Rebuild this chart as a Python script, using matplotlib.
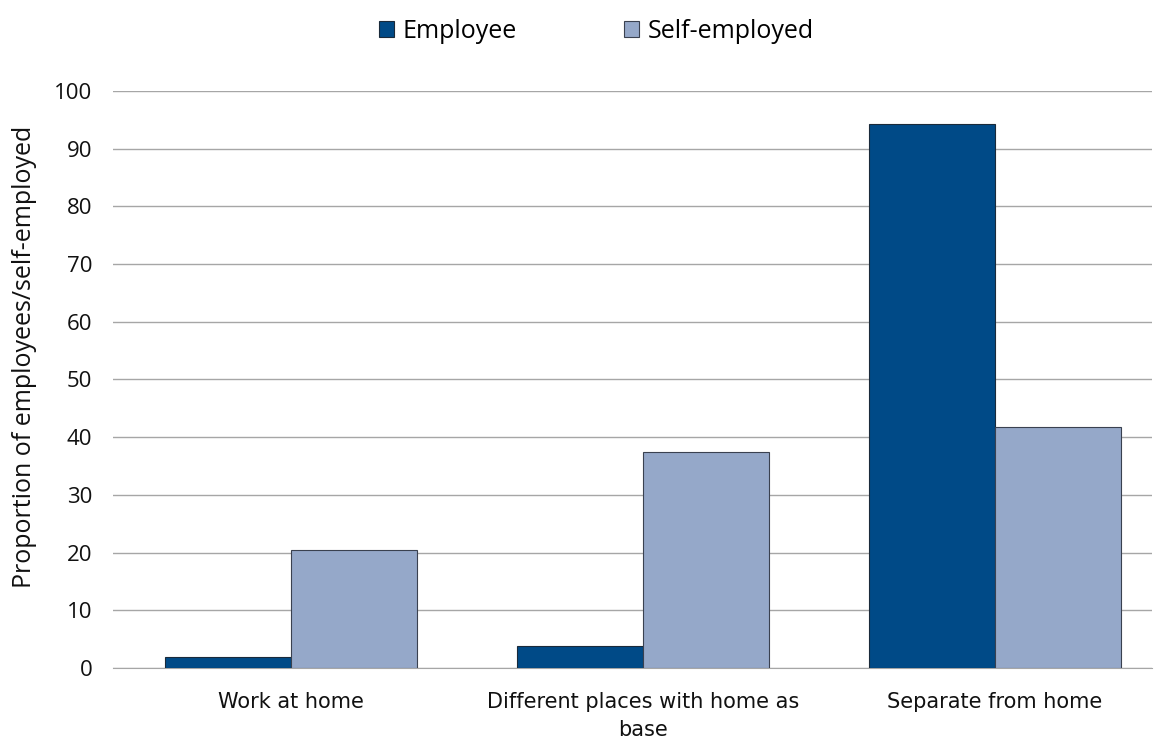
import numpy as np
import matplotlib.pyplot as plt

categories = ["Work at home", "Different places with home as\nbase", "Separate from home"]
employee = [1.9, 3.8, 94.2]
self_employed = [20.5, 37.5, 41.7]

x = np.arange(len(categories))
w = 0.358

fig = plt.figure(figsize=(11.6, 7.42), dpi=100)
ax = fig.add_axes([0.0974, 0.0997, 0.8956, 0.7777])

ax.bar(x - w / 2, employee, w, color="#004A87", edgecolor="#1a2a3a", linewidth=0.8,
       label="Employee", zorder=3)
ax.bar(x + w / 2, self_employed, w, color="#95A8C9", edgecolor="#3a4150", linewidth=0.8,
       label="Self-employed", zorder=3)

ax.set_xlim(-0.506, 2.446)
ax.set_ylim(0, 100)
ax.set_yticks(range(0, 101, 10))
ax.yaxis.grid(True, color="#A6A6A6", linewidth=1.0)
ax.set_axisbelow(True)
for name, s in ax.spines.items():
    s.set_visible(name == "bottom")
ax.spines["bottom"].set_color("#A6A6A6")
ax.tick_params(axis="both", length=0)
ax.tick_params(axis="y", labelsize=16, pad=15)
for t in ax.get_yticklabels():
    t.set_fontfamily("Open Sans")
    t.set_color("#111111")

ax.set_xticks(x)
ax.set_xticklabels(categories, fontsize=15, color="#111111", linespacing=1.55)
ax.tick_params(axis="x", pad=17)

ax.set_ylabel("Proportion of employees/self-employed", fontsize=18, family="Open Sans",
              color="#111111", labelpad=14)
ax.yaxis.set_label_coords(-0.0735, 0.54)

fig.legend(loc="upper center", bbox_to_anchor=(0.514, 1.005), ncol=2, frameon=False,
           prop={"family": "Open Sans", "size": 18}, handlelength=0.6, handleheight=0.6,
           handletextpad=0.35, columnspacing=4.3)

fig.savefig("out.png", dpi=100)
